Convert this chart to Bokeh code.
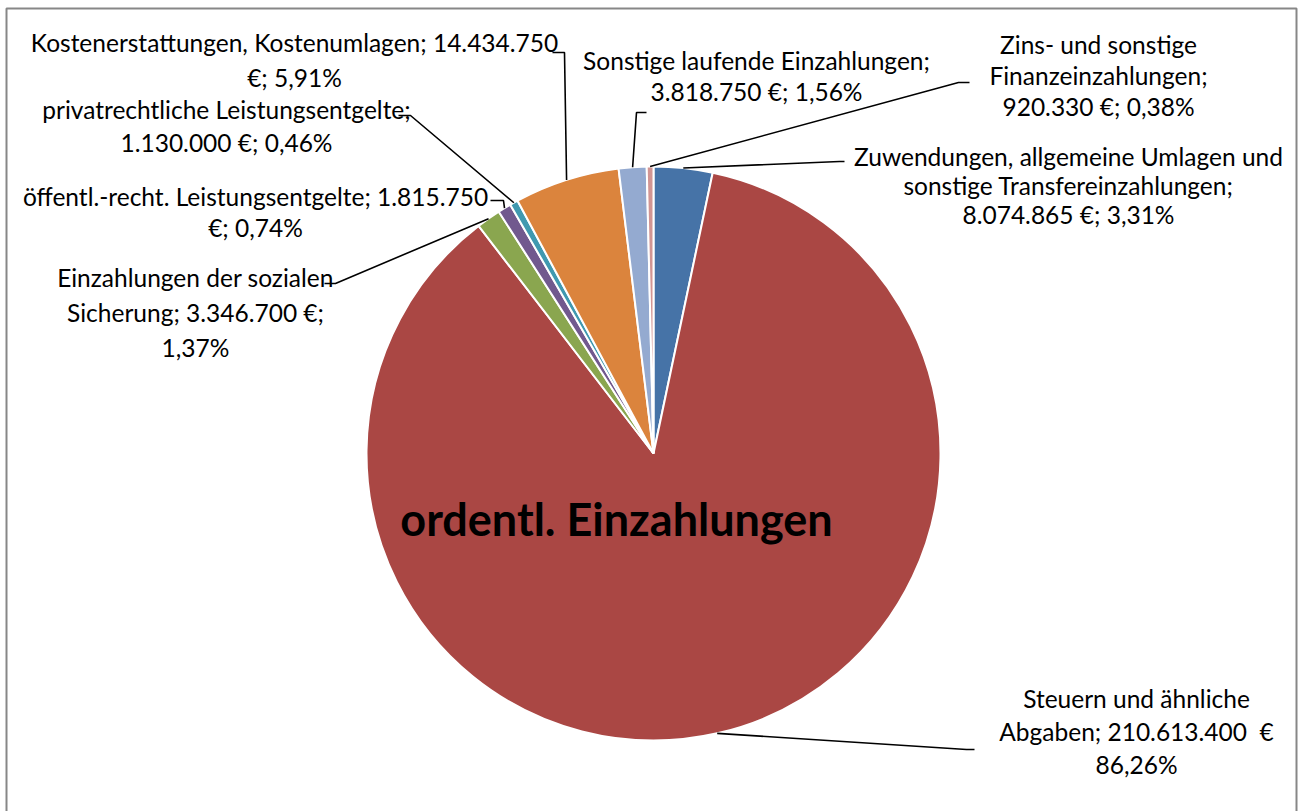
import math
from bokeh.plotting import figure
from bokeh.models import Range1d
from bokeh.core.properties import value
from bokeh.embed import file_html
from bokeh.resources import INLINE

W, H = 1303, 811

# ---- data (clockwise from 12 o'clock) ----
categories = [
    "Zuwendungen, allgemeine Umlagen und sonstige Transfereinzahlungen",
    "Steuern und ähnliche Abgaben",
    "Einzahlungen der sozialen Sicherung",
    "öffentl.-recht. Leistungsentgelte",
    "privatrechtliche Leistungsentgelte",
    "Kostenerstattungen, Kostenumlagen",
    "Sonstige laufende Einzahlungen",
    "Zins- und sonstige Finanzeinzahlungen",
]
amounts = [8074865, 210613400, 3346700, 1815750, 1130000, 14434750, 3818750, 920330]
percents = [3.31, 86.26, 1.37, 0.74, 0.46, 5.91, 1.56, 0.38]
colors = ["#4673A7", "#AA4744", "#8AA64F", "#71598E", "#4099B0", "#DB843D", "#94AAD0", "#D29593"]

label_lines = [
    ["Zuwendungen, allgemeine Umlagen und", "sonstige Transfereinzahlungen;", "8.074.865 €; 3,31%"],
    ["Steuern und ähnliche", "Abgaben; 210.613.400\u00a0 €", "86,26%"],
    ["Einzahlungen der sozialen", "Sicherung; 3.346.700 €;", "1,37%"],
    ["öffentl.-recht. Leistungsentgelte; 1.815.750", "€; 0,74%"],
    ["privatrechtliche Leistungsentgelte;", "1.130.000 €; 0,46%"],
    ["Kostenerstattungen, Kostenumlagen; 14.434.750", "€; 5,91%"],
    ["Sonstige laufende Einzahlungen;", "3.818.750 €; 1,56%"],
    ["Zins- und sonstige", "Finanzeinzahlungen;", "920.330 €; 0,38%"],
]
title_text = "ordentl. Einzahlungen"

# ---- layout (pixel positions, y from top) ----
CX, CY, R = 653, 453, 287
label_center_x = [1068, 1136, 195, 255, 226, 294, 756, 1098]
label_first_y = [156, 698, 277, 196, 109, 42, 60, 44]
line_gap = [29, 33, 35, 31, 33, 35, 31, 31]
leader_elbows = [
    [(839, 161), (844, 161)],
    [(966, 749), (974, 749)],
    [(335, 283), (324, 283)],
    [(503, 200), (490, 200)],
    [(410, 115), (398, 115)],
    [(564, 52), (552, 52)],
    [(636, 112), (646, 112)],
    [(958, 82), (969, 82)],
]

def fy(y):
    return H - y

p = figure(width=W, height=H, x_range=Range1d(0, W), y_range=Range1d(0, H),
           output_backend="svg", toolbar_location=None, min_border=0)
p.axis.visible = False
p.grid.visible = False
p.outline_line_color = None
p.background_fill_color = "white"
p.border_fill_color = "white"

# frame
p.quad(left=6, right=1296, top=fy(8), bottom=fy(830), fill_color=None,
       line_color="#878787", line_width=2)

total = sum(amounts)
starts, ends, mids = [], [], []
cum = 0.0
for a in amounts:
    s = cum / total
    cum += a
    e = cum / total
    starts.append(math.pi / 2 - s * 2 * math.pi)
    ends.append(math.pi / 2 - e * 2 * math.pi)
    mids.append(math.pi / 2 - (s + e) / 2 * 2 * math.pi)

p.wedge(x=CX, y=fy(CY), radius=R, start_angle=starts, end_angle=ends,
        direction="clock", fill_color=colors, line_color="white", line_width=2)

# leaders
xs, ys = [], []
for m, el in zip(mids, leader_elbows):
    sx = CX + R * math.cos(m)
    sy = fy(CY) + R * math.sin(m)
    xs.append([sx] + [e[0] for e in el])
    ys.append([sy] + [fy(e[1]) for e in el])
p.multi_line(xs=xs, ys=ys, line_color="black", line_width=1.6)

# labels
tx, ty, tt = [], [], []
for lines, cx, y0, g in zip(label_lines, label_center_x, label_first_y, line_gap):
    for i, t in enumerate(lines):
        tx.append(cx)
        ty.append(fy(y0 + i * g))
        tt.append(t)
p.text(x=tx, y=ty, text=tt, text_align="center", text_baseline="middle",
       text_font=value("Lato"), text_font_size="24.5px", text_color="black")

p.text(x=[616], y=[fy(518)], text=[title_text], text_align="center",
       text_baseline="middle", text_font=value("Lato"), text_font_size="45px",
       text_font_style="bold", text_color="black")

open("out.html", "w").write(file_html(p, INLINE))
